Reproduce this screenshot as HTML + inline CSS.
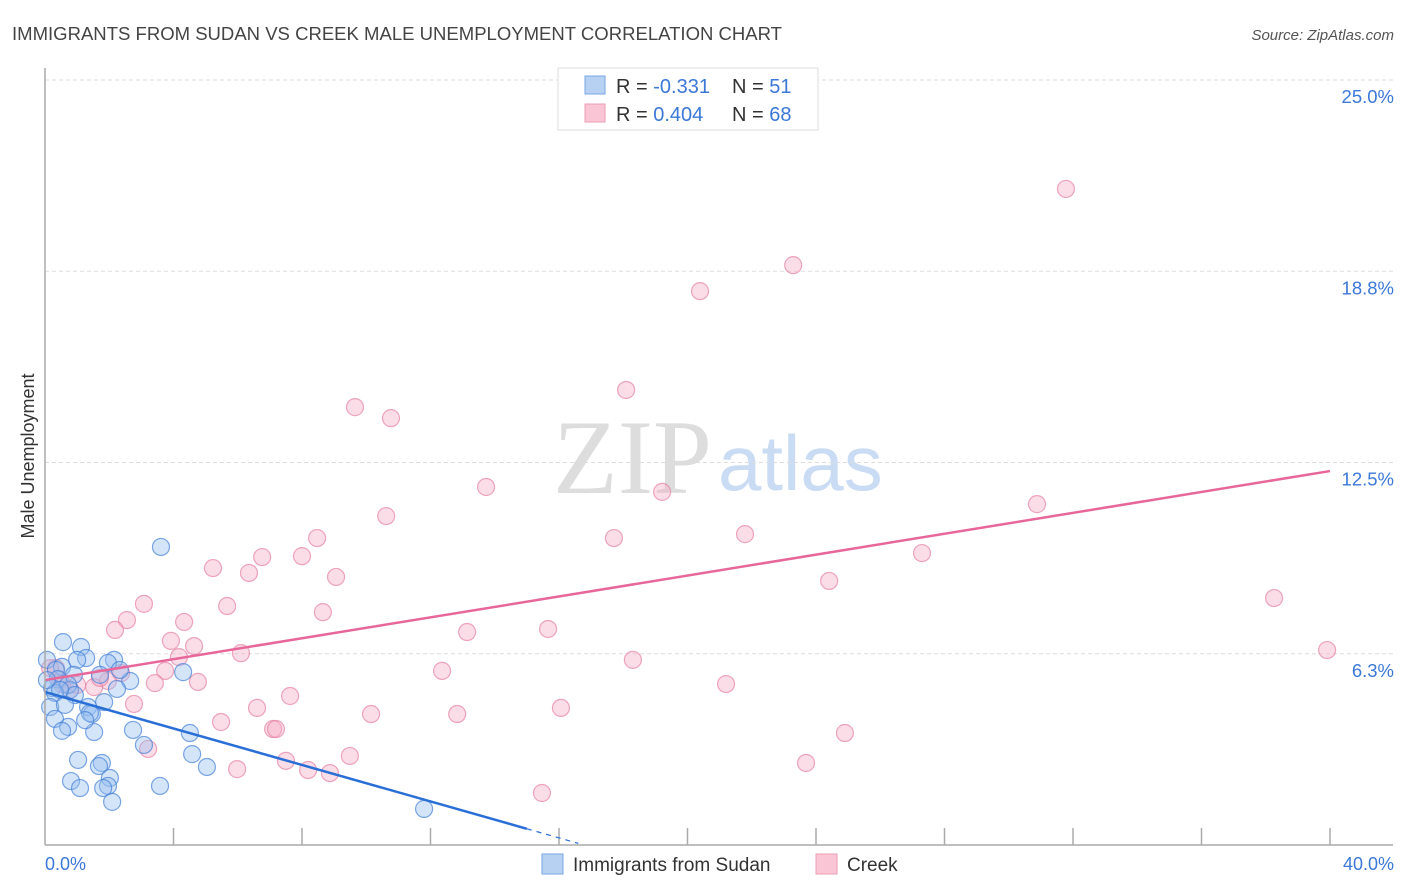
<!DOCTYPE html>
<html><head><meta charset="utf-8"><style>
body{margin:0;background:#fff;width:1406px;height:892px;overflow:hidden;font-family:"Liberation Sans",sans-serif}
svg{display:block}
</style></head><body>
<svg id="chart" width="1406" height="892">
<text x="12" y="40" font-size="18" fill="#444" textLength="770" lengthAdjust="spacingAndGlyphs">IMMIGRANTS FROM SUDAN VS CREEK MALE UNEMPLOYMENT CORRELATION CHART</text>
<text x="1394" y="40" font-size="15" fill="#555" font-style="italic" text-anchor="end">Source: ZipAtlas.com</text>
<text x="553" y="493" font-size="106" fill="#ddd" font-family="Liberation Serif,serif">ZIP</text>
<text x="718" y="490" font-size="78" fill="#c9dcf3">atlas</text>
<text transform="translate(34,456) rotate(-90)" font-size="18" fill="#333" text-anchor="middle">Male Unemployment</text>
<g id="grid"></g><g id="ticks"></g><g id="pts"></g><g id="trend"></g>
<line x1="45" y1="68" x2="45" y2="845" stroke="#aaa" stroke-width="1.5"/>
<line x1="45" y1="845" x2="1393" y2="845" stroke="#aaa" stroke-width="1.5"/>
<text x="45" y="870" font-size="18" fill="#3b78d8">0.0%</text>
<text x="1394" y="870" font-size="18" fill="#3b78d8" text-anchor="end">40.0%</text>
<g>
<rect x="558" y="68" width="260" height="62" fill="#fff" stroke="#ddd"/>
<rect x="585" y="76" width="20" height="18" fill="#b7d1f3" stroke="#7aa6e3"/>
<rect x="585" y="104" width="20" height="18" fill="#fac5d4" stroke="#eb9db6"/>
<text x="616" y="93" font-size="20" fill="#333">R = <tspan fill="#3b78d8">-0.331</tspan></text>
<text x="732" y="93" font-size="20" fill="#333">N = <tspan fill="#3b78d8"> 51</tspan></text>
<text x="616" y="121" font-size="20" fill="#333">R = <tspan fill="#3b78d8">0.404</tspan></text>
<text x="732" y="121" font-size="20" fill="#333">N = <tspan fill="#3b78d8">68</tspan></text>
</g>
<g><rect x="542" y="854" width="21" height="20" fill="#b7d1f3" stroke="#7aa6e3"/><text x="573" y="871" font-size="19" fill="#333">Immigrants from Sudan</text></g>
<g><rect x="816" y="854" width="21" height="20" fill="#fac5d4" stroke="#eb9db6"/><text x="847" y="871" font-size="19" fill="#333">Creek</text></g>
</svg>
<script>
const yTicks=[6.25,12.5,18.75,25];
const yTickLabels=["6.3%","12.5%","18.8%","25.0%"];
const xTickVals=[4,8,12,16,20,24,28,32,36,40];
const sudanX=[3.61,0.56,1.12,1.28,2.15,0.06,1.96,0.53,1.00,0.34,0.90,1.71,2.65,4.30,0.40,0.22,0.78,0.72,2.24,0.31,0.93,1.84,0.16,1.34,1.46,0.31,1.40,0.72,0.53,1.53,2.74,4.51,3.08,4.58,1.03,1.77,1.68,5.04,2.02,0.81,1.09,1.96,1.81,3.58,2.09,11.80,0.06,0.47,2.33,0.62,1.25];
const sudanY=[9.74,6.63,6.47,6.11,6.05,6.05,5.95,5.82,6.05,5.72,5.56,5.56,5.36,5.65,5.42,5.13,5.07,5.23,5.10,4.97,4.90,4.67,4.51,4.51,4.28,4.12,4.31,3.86,3.73,3.69,3.76,3.66,3.27,2.97,2.78,2.68,2.58,2.55,2.19,2.09,1.86,1.93,1.86,1.93,1.41,1.18,5.39,5.07,5.72,4.58,4.08];
const creekX=[31.78,23.29,20.39,18.09,9.65,10.77,13.73,19.21,10.62,30.88,21.79,17.71,8.47,6.76,8.00,27.30,5.23,6.35,9.06,24.41,38.26,3.08,5.67,8.65,2.55,2.18,4.33,13.14,15.66,3.92,4.64,39.91,6.10,18.30,4.17,3.74,12.36,2.37,0.34,3.42,4.76,1.96,1.53,21.20,7.63,1.00,0.47,2.77,16.06,6.60,10.15,12.83,5.48,7.10,7.19,24.90,3.21,9.49,7.50,23.69,5.98,8.19,8.87,15.47,0.16,0.78,1.71,0.53];
const creekY=[21.44,18.95,18.10,14.87,14.31,13.95,11.70,11.54,10.75,11.14,10.16,10.03,10.03,9.41,9.44,9.54,9.05,8.89,8.76,8.63,8.07,7.88,7.81,7.61,7.35,7.03,7.29,6.96,7.06,6.67,6.50,6.37,6.27,6.05,6.14,5.69,5.69,5.62,5.78,5.29,5.33,5.36,5.16,5.26,4.87,5.23,5.39,4.61,4.48,4.48,4.28,4.28,4.02,3.79,3.79,3.66,3.14,2.91,2.75,2.68,2.48,2.45,2.35,1.70,5.78,5.07,5.46,5.26];
const sudanTrend=[5.0,-0.298]; // intercept, slope
const creekTrend=[5.39,12.22]; // value at x=0, x=40
const NS="http://www.w3.org/2000/svg";
const X=v=>45+v*1285/40, Y=v=>845-v*765/25;
function mk(t,a,p){const e=document.createElementNS(NS,t);for(const k in a)e.setAttribute(k,a[k]);p.appendChild(e);return e;}
const grid=document.getElementById('grid');
yTicks.forEach((t,i)=>{
 const l=mk('line',{x1:45,x2:1393,y1:Y(t),y2:Y(t),stroke:'#ddd','stroke-dasharray':'4,3'},grid);
 
 
 const tx=mk('text',{x:1394,y:Y(t)+23,'font-size':18.5,fill:'#3b78d8','text-anchor':'end'},grid);
 tx.textContent=yTickLabels[i];
 
 
});
const tk=document.getElementById('ticks');
xTickVals.forEach(v=>{
 const l=mk('line',{x1:X(v),x2:X(v),y1:828,y2:845,stroke:'#aaa','stroke-width':1.5},tk);
 
 
});
const pts=document.getElementById('pts');
creekX.forEach((x,i)=>{
 const c=mk('circle',{cx:X(x),cy:Y(creekY[i]),r:8.5,fill:'rgba(245,170,195,0.4)',stroke:'rgba(230,130,165,0.7)','stroke-width':1.2},pts);
 
 
});
sudanX.forEach((x,i)=>{
 const c=mk('circle',{cx:X(x),cy:Y(sudanY[i]),r:8.5,fill:'rgba(150,190,240,0.4)',stroke:'rgba(70,130,215,0.7)','stroke-width':1.2},pts);
 
 
});
const tr=document.getElementById('trend');
let l=mk('line',{x1:X(0),y1:Y(creekTrend[0]),x2:X(40),y2:Y(creekTrend[1]),stroke:'#e8679a','stroke-width':2.5},tr);


const sy=x=>sudanTrend[0]+sudanTrend[1]*x;
l=mk('line',{x1:X(0),y1:Y(sy(0)),x2:X(15),y2:Y(sy(15)),stroke:'#2a6fd6','stroke-width':2.5},tr);


l=mk('line',{x1:X(15),y1:Y(sy(15)),x2:X(16.6),y2:Y(sy(16.6)),stroke:'#2a6fd6','stroke-width':1.2,'stroke-dasharray':'5,5'},tr);


</script>
</body></html>
